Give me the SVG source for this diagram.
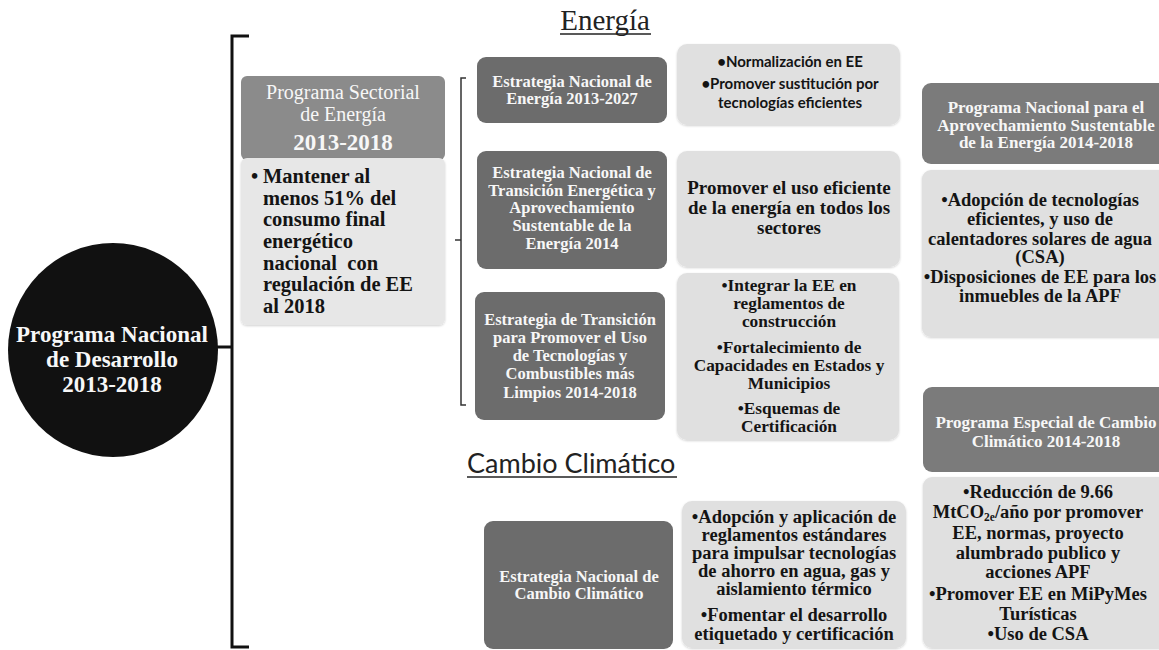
<svg xmlns="http://www.w3.org/2000/svg" width="1159" height="650" viewBox="0 0 1159 650">
  <defs>
    <filter id="soft" x="-5%" y="-5%" width="110%" height="115%">
      <feDropShadow dx="0" dy="1" stdDeviation="1.2" flood-color="#000" flood-opacity="0.18"/>
    </filter>
    <style>
      .serif { font-family: "Liberation Serif", "DejaVu Serif", serif; }
      .sans { font-family: Lato, "Liberation Sans", sans-serif; }
      .dark { fill: #6c6c6c; }
      .mid { fill: #7b7b7b; }
      .head { fill: #8b8b8b; }
      .light { fill: #e0e0e0; }
      .pale { fill: #e7e7e7; }
      .wt { fill: #f7f7f7; text-anchor: middle; font-weight: bold; }
      .bk { fill: #141414; text-anchor: middle; font-weight: bold; }
      .bracket { fill: none; stroke: #111; stroke-width: 3; }
      .thin { fill: none; stroke: #333; stroke-width: 1.5; }
      .ul { stroke: #222; stroke-width: 1.3; }
    </style>
  </defs>
  <rect width="1159" height="650" fill="#ffffff"/>

  <!-- section titles -->
  <g id="title-energia">
    <text x="605" y="30" class="serif" font-size="29" fill="#222" text-anchor="middle">Energía</text>
    <line x1="560" y1="34" x2="651" y2="34" class="ul"/>
  </g>
  <g id="title-cambio">
    <text x="467" y="473" class="sans" font-size="27" fill="#222">Cambio Climático</text>
    <line x1="467" y1="477" x2="677" y2="477" class="ul"/>
  </g>

  <!-- connectors: brackets -->
  <g id="connectors">
    <path class="bracket" d="M249,36 H232 V647 H249"/>
    <line class="bracket" x1="214" y1="347" x2="232" y2="347"/>
    <path class="thin" d="M466,78 H461 V405 H466"/>
    <line class="thin" x1="455" y1="240" x2="461" y2="240"/>
  </g>

  <!-- root: national plan -->
  <g id="pnd">
    <ellipse cx="113" cy="350" rx="105" ry="107" fill="#111"/>
    <text class="serif wt" font-size="23" x="112" y="342">Programa Nacional</text>
    <text class="serif wt" font-size="23" x="112" y="367">de Desarrollo</text>
    <text class="serif wt" font-size="23" x="112" y="392">2013-2018</text>
  </g>

  <!-- sectoral programme -->
  <g id="programa-sectorial">
    <rect x="241" y="76" width="204" height="84" rx="6" class="head"/>
    <text class="serif" font-size="20" fill="#f7f7f7" text-anchor="middle" x="343" y="99">Programa Sectorial</text>
    <text class="serif" font-size="20" fill="#f7f7f7" text-anchor="middle" x="343" y="121">de Energía</text>
    <text class="serif wt" font-size="23" x="343" y="150">2013-2018</text>
    <rect x="241" y="158" width="204" height="167" rx="6" class="pale" filter="url(#soft)"/>
    <g class="serif" font-size="20.5" font-weight="bold" fill="#141414">
      <text x="251" y="183">•</text>
      <text x="263" y="183">Mantener al</text>
      <text x="263" y="205">menos 51% del</text>
      <text x="263" y="226">consumo final</text>
      <text x="263" y="248">energético</text>
      <text x="263" y="270" xml:space="preserve">nacional  con</text>
      <text x="263" y="291">regulación de EE</text>
      <text x="263" y="313">al 2018</text>
    </g>
  </g>

  <!-- national energy strategy -->
  <g id="estrategia-energia">
    <rect x="477" y="57" width="190" height="66" rx="9" class="dark"/>
    <text class="serif wt" font-size="16.5" x="572" y="87">Estrategia Nacional de</text>
    <text class="serif wt" font-size="16.5" x="572" y="104">Energía 2013-2027</text>
  </g>
  <g id="acciones-energia">
    <rect x="677" y="44" width="223" height="81" rx="10" class="light" filter="url(#soft)"/>
    <text class="sans bk" font-size="15" x="790" y="67">•Normalización en EE</text>
    <text class="sans bk" font-size="15" x="790" y="89">•Promover sustitución por</text>
    <text class="sans bk" font-size="15" x="790" y="108">tecnologías eficientes</text>
  </g>

  <!-- energy transition strategy -->
  <g id="estrategia-transicion">
    <rect x="477" y="151" width="190" height="118" rx="9" class="dark"/>
    <text class="serif wt" font-size="16.5" x="572" y="178">Estrategia Nacional de</text>
    <text class="serif wt" font-size="16.5" x="572" y="196">Transición Energética y</text>
    <text class="serif wt" font-size="16.5" x="572" y="213">Aprovechamiento</text>
    <text class="serif wt" font-size="16.5" x="572" y="231">Sustentable de la</text>
    <text class="serif wt" font-size="16.5" x="572" y="249">Energía 2014</text>
  </g>
  <g id="acciones-transicion">
    <rect x="677" y="151" width="223" height="116" rx="10" class="light" filter="url(#soft)"/>
    <text class="serif bk" font-size="19" x="789" y="194">Promover el uso eficiente</text>
    <text class="serif bk" font-size="19" x="789" y="214">de la energía en todos los</text>
    <text class="serif bk" font-size="19" x="789" y="234">sectores</text>
  </g>

  <!-- cleaner technologies strategy -->
  <g id="estrategia-tecnologias">
    <rect x="475" y="292" width="190" height="128" rx="9" class="dark"/>
    <text class="serif wt" font-size="16.5" x="570" y="325">Estrategia de Transición</text>
    <text class="serif wt" font-size="16.5" x="570" y="343">para Promover el Uso</text>
    <text class="serif wt" font-size="16.5" x="570" y="361">de Tecnologías y</text>
    <text class="serif wt" font-size="16.5" x="570" y="379">Combustibles más</text>
    <text class="serif wt" font-size="16.5" x="570" y="398">Limpios 2014-2018</text>
  </g>
  <g id="acciones-tecnologias">
    <rect x="677" y="273" width="222" height="167" rx="10" class="light" filter="url(#soft)"/>
    <text class="serif bk" font-size="17.3" x="789" y="291">•Integrar la EE en</text>
    <text class="serif bk" font-size="17.3" x="789" y="309">reglamentos de</text>
    <text class="serif bk" font-size="17.3" x="789" y="327">construcción</text>
    <text class="serif bk" font-size="17.3" x="789" y="353">•Fortalecimiento de</text>
    <text class="serif bk" font-size="17.3" x="789" y="371">Capacidades en Estados y</text>
    <text class="serif bk" font-size="17.3" x="789" y="389">Municipios</text>
    <text class="serif bk" font-size="17.3" x="789" y="414">•Esquemas de</text>
    <text class="serif bk" font-size="17.3" x="789" y="432">Certificación</text>
  </g>

  <!-- climate change strategy -->
  <g id="estrategia-cambio">
    <rect x="484" y="521" width="189" height="128" rx="9" class="dark"/>
    <text class="serif wt" font-size="16.5" x="579" y="582">Estrategia Nacional de</text>
    <text class="serif wt" font-size="16.5" x="579" y="599">Cambio Climático</text>
  </g>
  <g id="acciones-cambio">
    <rect x="682" y="501" width="224" height="147" rx="10" class="light" filter="url(#soft)"/>
    <text class="serif bk" font-size="18.5" x="794" y="523">•Adopción y aplicación de</text>
    <text class="serif bk" font-size="18.5" x="794" y="541">reglamentos estándares</text>
    <text class="serif bk" font-size="18.5" x="794" y="559">para impulsar tecnologías</text>
    <text class="serif bk" font-size="18.5" x="794" y="577">de ahorro en agua, gas y</text>
    <text class="serif bk" font-size="18.5" x="794" y="595">aislamiento térmico</text>
    <text class="serif bk" font-size="18.5" x="794" y="621">•Fomentar el desarrollo</text>
    <text class="serif bk" font-size="18.5" x="794" y="640">etiquetado y certificación</text>
  </g>

  <!-- sustainable energy programme -->
  <g id="pronase">
    <rect x="922" y="83" width="250" height="81" rx="9" class="mid"/>
    <text class="serif wt" font-size="17" x="1046" y="113">Programa Nacional para el</text>
    <text class="serif wt" font-size="17" x="1046" y="131">Aprovechamiento Sustentable</text>
    <text class="serif wt" font-size="17" x="1046" y="148">de la Energía 2014-2018</text>
    <rect x="922" y="170" width="250" height="167" rx="9" class="light" filter="url(#soft)"/>
    <text class="serif bk" font-size="18.5" x="1040" y="206">•Adopción de tecnologías</text>
    <text class="serif bk" font-size="18.5" x="1040" y="225">eficientes, y uso de</text>
    <text class="serif bk" font-size="18.5" x="1040" y="245">calentadores solares de agua</text>
    <text class="serif bk" font-size="18.5" x="1040" y="263">(CSA)</text>
    <text class="serif bk" font-size="18.5" x="1040" y="283">•Disposiciones de EE para los</text>
    <text class="serif bk" font-size="18.5" x="1040" y="302">inmuebles de la APF</text>
  </g>

  <!-- special climate change programme -->
  <g id="pecc">
    <rect x="923" y="387" width="250" height="85" rx="9" class="mid"/>
    <text class="serif wt" font-size="17" x="1046" y="428">Programa Especial de Cambio</text>
    <text class="serif wt" font-size="17" x="1046" y="447">Climático 2014-2018</text>
    <rect x="923" y="477" width="250" height="171" rx="9" class="light" filter="url(#soft)"/>
    <text class="serif bk" font-size="18.5" x="1038" y="498">•Reducción de 9.66</text>
    <text class="serif bk" font-size="18.5" x="1038" y="518">MtCO<tspan font-size="11.5" dy="3">2e</tspan><tspan dy="-3">/año  por promover</tspan></text>
    <text class="serif bk" font-size="18.5" x="1038" y="539">EE, normas, proyecto</text>
    <text class="serif bk" font-size="18.5" x="1038" y="559">alumbrado publico y</text>
    <text class="serif bk" font-size="18.5" x="1038" y="578">acciones APF</text>
    <text class="serif bk" font-size="18.5" x="1038" y="600">•Promover EE en MiPyMes</text>
    <text class="serif bk" font-size="18.5" x="1038" y="620">Turísticas</text>
    <text class="serif bk" font-size="18.5" x="1038" y="640">•Uso de CSA</text>
  </g>
</svg>
